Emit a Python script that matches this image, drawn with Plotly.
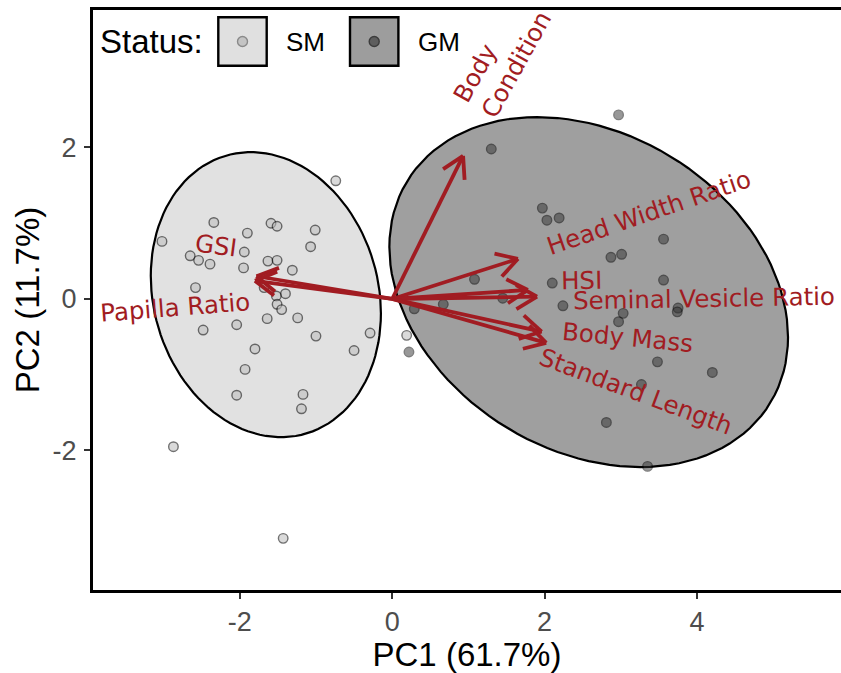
import numpy as np
import plotly.graph_objects as go

# ---------------- data ----------------
sm_pc1 = [-0.74, -2.34, -1.59, -1.51, -1.90, -1.01, -3.02, -1.07, -2.65, -2.54, -2.39, -1.94,
          -1.95, -1.63, -1.51, -1.31, -2.58, -1.68, -1.40, -1.52, -1.51, -1.45, -1.24, -1.64,
          -2.04, -2.48, -1.00, -0.29, -1.80, -0.50, -1.93, -2.04, -1.17, -1.19, -2.87, -1.43, 0.19]
sm_pc2 = [1.56, 1.01, 1.00, 0.96, 0.87, 0.91, 0.76, 0.69, 0.57, 0.51, 0.46, 0.62,
          0.41, 0.50, 0.51, 0.38, 0.15, 0.15, 0.07, 0.04, -0.07, -0.14, -0.25, -0.26,
          -0.34, -0.41, -0.49, -0.45, -0.66, -0.68, -0.93, -1.27, -1.26, -1.45, -1.95, -3.16, -0.48]

gm_pc1 = [2.97, 1.30, 1.97, 2.03, 2.19, 3.56, 2.87, 3.01, 3.56, 1.08, 2.10, 1.45, 0.67,
          0.29, 2.24, 3.75, 3.74, 3.03, 2.97, 3.48, 4.20, 3.27, 2.81, 3.35, 0.22]
gm_pc2 = [2.43, 1.98, 1.20, 1.04, 1.07, 0.79, 0.55, 0.59, 0.25, 0.26, 0.21, 0.01, -0.07,
          -0.13, -0.09, -0.12, -0.17, -0.19, -0.30, -0.83, -0.97, -1.13, -1.63, -2.21, -0.70]

var_names = ["Body<br>Condition", "Head Width Ratio", "HSI", "Seminal Vesicle Ratio",
             "Body Mass", "Standard Length", "GSI", "Papilla Ratio"]
load_pc1 = [0.93, 1.65, 1.78, 1.90, 1.96, 2.02, -1.78, -1.80]
load_pc2 = [1.89, 0.53, 0.12, 0.03, -0.43, -0.58, 0.30, 0.24]
label_pc1 = [1.45, 3.37, 2.49, 4.09, 3.09, 3.20, -2.31, -2.85]
label_pc2 = [3.20, 1.14, 0.25, 0.00, -0.51, -1.22, 0.70, -0.11]
label_angle = [-61, -18.9, -1, -1, 5.4, 20.5, 7.4, -4.5]

x_ticks = [-2, 0, 2, 4]
x_tick_text = ["-2", "0", "2", "4"]
y_ticks = [-2, 0, 2]
y_tick_text = ["-2", "0", "2"]
x_title = "PC1 (61.7%)"
y_title = "PC2 (11.7%)"
groups = ["SM", "GM"]

# ---------------- layout geometry ----------------
W, H = 841, 673
ML, MR, MT, MB = 93, 0, 10, 83
x_range = [-3.925, 5.888]
y_range = [-3.842, 3.815]
plot_w = W - ML - MR
plot_h = H - MT - MB
sx = plot_w / (x_range[1] - x_range[0])
sy = plot_h / (y_range[1] - y_range[0])

RED = "#a11c22"


def cov_trob(x, nu=5, maxit=25, tol=0.01):
    x = np.asarray(x, float)
    n, p = x.shape
    wt = np.ones(n)
    loc = (wt[:, None] * x).sum(0) / wt.sum()
    w = np.sqrt(wt)
    X = x - loc
    for _ in range(maxit):
        w0 = w
        X = x - loc
        U, d, Vt = np.linalg.svd(np.sqrt(w / w.sum())[:, None] * X, full_matrices=False)
        wX = X @ Vt.T @ np.diag(1.0 / d)
        Q = (wX ** 2).sum(1)
        w = (wt * (nu + p)) / (nu + Q)
        loc = (w[:, None] * x).sum(0) / w.sum()
        if np.all(np.abs(w - w0) < tol):
            break
    cov = (np.sqrt(w)[:, None] * X).T @ (np.sqrt(w)[:, None] * X) / wt.sum()
    return loc, cov


def ellipse_xy(px, py, level=0.95, seg=120):
    data = np.column_stack([px, py])
    center, shape = cov_trob(data)
    dfd = len(px) - 1
    qf = (dfd / 2.0) * ((1 - level) ** (-2.0 / dfd) - 1)
    radius = np.sqrt(2 * qf)
    R = np.linalg.cholesky(shape).T
    ang = np.linspace(0, 2 * np.pi, seg + 1)
    circ = np.column_stack([np.cos(ang), np.sin(ang)])
    ell = center + radius * (circ @ R)
    return ell[:, 0], ell[:, 1]


fig = go.Figure()

# ellipses
for gx, gy, fillc in [(sm_pc1, sm_pc2, "#e1e1e1"), (gm_pc1, gm_pc2, "#9f9f9f")]:
    ex, ey = ellipse_xy(gx, gy)
    fig.add_trace(go.Scatter(x=ex, y=ey, mode="lines", fill="toself", fillcolor=fillc,
                             line=dict(color="black", width=2.2), hoverinfo="skip"))

# points
fig.add_trace(go.Scatter(x=sm_pc1, y=sm_pc2, mode="markers", name="SM",
                         marker=dict(size=9.5, color="#bdbdbd", opacity=0.55,
                                     line=dict(color="black", width=1.4))))
fig.add_trace(go.Scatter(x=gm_pc1, y=gm_pc2, mode="markers", name="GM",
                         marker=dict(size=9.5, color="#333333", opacity=0.5,
                                     line=dict(color="black", width=1.4))))

# arrows (shafts + open heads computed in pixel space)
ax, ay = [], []
L, half = 24.0, np.deg2rad(30)
for tx, ty in zip(load_pc1, load_pc2):
    ax += [0, tx, None]
    ay += [0, ty, None]
    dx, dy = tx * sx, ty * sy
    n = np.hypot(dx, dy)
    ux, uy = -dx / n, -dy / n
    for s in (half, -half):
        bx = ux * np.cos(s) - uy * np.sin(s)
        by = ux * np.sin(s) + uy * np.cos(s)
        ax += [tx + L * bx / sx, tx, None]
        ay += [ty + L * by / sy, ty, None]
fig.add_trace(go.Scatter(x=ax, y=ay, mode="lines", line=dict(color=RED, width=3.8),
                         hoverinfo="skip"))

# variable labels
for name, lx, ly, ang in zip(var_names, label_pc1, label_pc2, label_angle):
    fig.add_annotation(x=lx, y=ly, text=name, showarrow=False, textangle=ang,
                       xanchor="center", yanchor="middle", align="left",
                       font=dict(family="DejaVu Sans", size=24.5, color=RED))


# ---------------- legend (drawn manually) ----------------
def px2paper(px, py):
    return (px - ML) / plot_w, (H - MB - py) / plot_h


legend_items = [("SM", 218.3, "#e0e0e0", "#c4c4c4", "#8a8a8a"),
                ("GM", 350.0, "#9d9d9d", "#5e5e5e", "#3c3c3c")]
for label, x0, boxc, dotc, dotl in legend_items:
    x0p, y0p = px2paper(x0, 65.7)
    x1p, y1p = px2paper(x0 + 48.4, 17.3)
    fig.add_shape(type="rect", xref="paper", yref="paper", x0=x0p, y0=y0p, x1=x1p, y1=y1p,
                  fillcolor=boxc, line=dict(color="black", width=2.4))
    cx, cy = px2paper(x0 + 24.2, 41.5)
    fig.add_shape(type="circle", xref="paper", yref="paper", xsizemode="pixel", ysizemode="pixel",
                  xanchor=cx, yanchor=cy, x0=-5, x1=5, y0=-5, y1=5,
                  fillcolor=dotc, line=dict(color=dotl, width=1.4))
    tx, ty = px2paper(x0 + 66, 41.5)
    fig.add_annotation(x=tx, y=ty, xref="paper", yref="paper", text=label, showarrow=False,
                       xanchor="left", yanchor="middle",
                       font=dict(family="Liberation Sans", size=26, color="black"))
tx, ty = px2paper(98, 41.5)
fig.add_annotation(x=tx, y=ty, xref="paper", yref="paper", text="Status:", showarrow=False,
                   xanchor="left", yanchor="middle",
                   font=dict(family="Liberation Sans", size=33, color="black"))

fig.update_layout(width=W, height=H, margin=dict(l=ML, r=MR, t=MT, b=MB),
                  plot_bgcolor="white", paper_bgcolor="white", showlegend=False)
fig.update_xaxes(range=x_range, tickvals=x_ticks, ticktext=x_tick_text, ticks="outside",
                 ticklen=6, tickwidth=2,
                 tickcolor="#333333", showline=True, linewidth=3, linecolor="black",
                 mirror=True, showgrid=False, zeroline=False,
                 tickfont=dict(family="Liberation Sans", size=27, color="#4d4d4d"),
                 title=dict(text=x_title, standoff=6,
                            font=dict(family="Liberation Sans", size=33, color="black")))
fig.update_yaxes(range=y_range, tickvals=y_ticks, ticktext=y_tick_text, ticks="outside",
                 ticklen=6, tickwidth=2, ticklabelstandoff=2,
                 tickcolor="#333333", showline=True, linewidth=3, linecolor="black",
                 mirror=False, showgrid=False, zeroline=False,
                 tickfont=dict(family="Liberation Sans", size=27, color="#4d4d4d"),
                 title=dict(text=y_title, standoff=4,
                            font=dict(family="Liberation Sans", size=33, color="black")))

fig.write_html("out.html", config={"displayModeBar": False},
               post_script="document.body.style.margin='0px';")
